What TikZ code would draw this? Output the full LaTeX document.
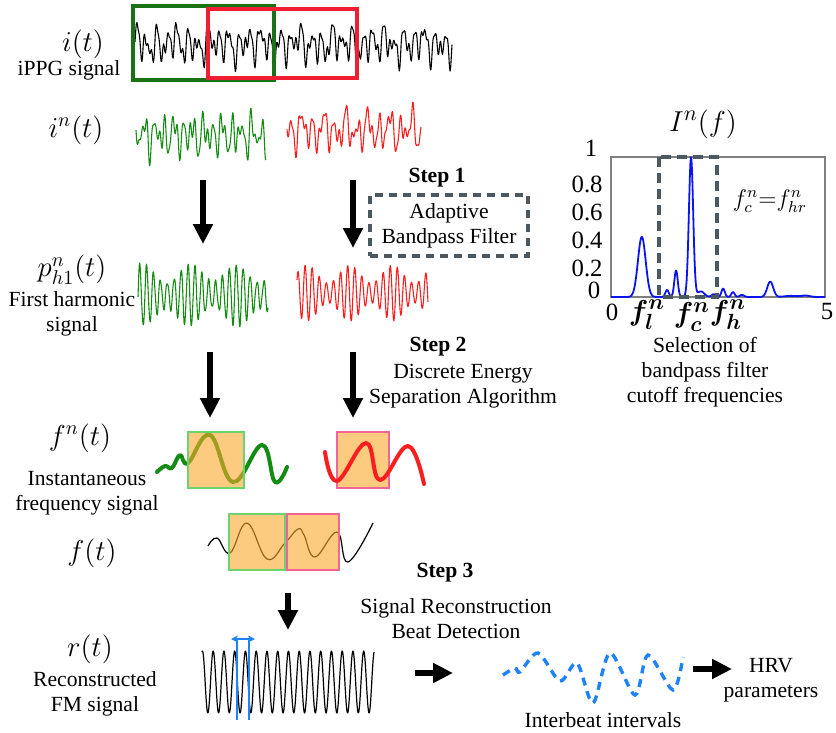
\documentclass[tikz,border=0pt]{standalone}
\usepackage{amsmath}
\usepackage{fontspec}
\setmainfont{Liberation Serif}
\usetikzlibrary{arrows.meta}

\definecolor{sgreen}{RGB}{20,140,20}
\definecolor{sred}{RGB}{250,30,30}
\definecolor{topgreen}{RGB}{25,115,20}
\definecolor{topred}{RGB}{240,30,50}
\definecolor{dashgray}{RGB}{75,88,95}
\definecolor{winfill}{RGB}{252,168,43}
\definecolor{edgegreen}{RGB}{110,210,110}
\definecolor{edgepink}{RGB}{240,100,150}
\definecolor{ibiblue}{RGB}{30,130,250}
\definecolor{specblue}{RGB}{10,20,240}

\tikzset{
  bigarrow/.style={line width=3.2pt,-{Triangle[length=10pt,width=9.5pt]}},
  txt/.style={font=\fontsize{10.8}{12.5}\selectfont,align=center,inner sep=0pt},
  steptxt/.style={txt,font=\fontsize{10.8}{12.5}\selectfont\bfseries},
  sig/.style={font=\fontsize{14.4}{16}\selectfont,inner sep=0pt},
  ticklbl/.style={font=\fontsize{12.4}{14}\selectfont,inner sep=0pt},
  wave/.style={line width=0.55pt,line join=round},
  fmcurve/.style={line width=2pt,line cap=round,line join=round},
  win/.style={fill=winfill,fill opacity=0.6,line width=1pt},
}

\begin{document}
\begin{tikzpicture}[x=0.5pt,y=-0.5pt,
    declare function={wv(\x,\y)=sin((360/\y)*mod(\x,\y));
                      wc(\x,\y)=cos((360/\y)*mod(\x,\y));
                      gs(\x,\y,\z)=exp(-0.5*((\x-\y)/\z)^2);}]
    \useasboundingbox (0,0) rectangle (836,733);

    % arrow ends
    \coordinate (inG) at (203,180);
    \coordinate (phG) at (203,244);
    \coordinate (inR) at (353,180);
    \coordinate (phR) at (353,248);
    \coordinate (phGout) at (210,352);
    \coordinate (fnG) at (210,418);
    \coordinate (phRout) at (353,352);
    \coordinate (fnR) at (353,418);
    \coordinate (ftOut) at (288,593);
    \coordinate (rtIn) at (288,630);
    \coordinate (rtOut) at (415,673);
    \coordinate (ibiIn) at (453,673);
    \coordinate (ibiOut) at (693,669);
    \coordinate (hrvIn) at (732,669);

    % iPPG signal and windows
    \draw[wave] plot[domain=135:452,samples=500]
        (\x,{44-11*wv(\x,10.3)-7*wv(\x+2.1,6.3)-5*wv(\x+1.3,3.9)-5*wv(\x+7,17.7)-3*wv(\x,41)});
    \draw[topgreen,line width=1.8pt] (133,6) rectangle (274,80);
    \draw[topred,line width=1.8pt] (208,9) rectangle (357,78);

    % windowed signals
    \draw[wave,sgreen] plot[domain=136:266,samples=260]
        (\x,{135-12*wv(\x+3,9.7)-9*wv(\x+1,6.1)-6*wv(\x,4.3)-5*wv(\x+5,15.9)});
    \draw[wave,sred] plot[domain=287:421,samples=260]
        (\x,{130-12*wv(\x+1,11.1)-8*wv(\x+4,6.7)-5*wv(\x+2,4.1)-6*wv(\x,21.3)});

    % first harmonic
    \draw[wave,sgreen] plot[domain=138:268,samples=320]
        (\x,{295-(22+9*wv(\x+10,47))*wv(\x,6.9)-2*wv(\x,3.3)});
    \draw[wave,sred] plot[domain=297:428,samples=320]
        (\x,{293-(19+9*wv(\x+5,43))*wv(\x+2,7.1)});

    % instantaneous frequency
    \draw[fmcurve,sgreen] plot[smooth,tension=0.7] coordinates {(157,472) (165,466) (172,468)
        (180,455) (188,463) (210,435) (233,482) (262,445) (275,482) (287,467)};
    \draw[win,draw=edgegreen] (188,432) rectangle (244,488);
    \draw[win,draw=edgepink] (337,432) rectangle (389,488);
    \draw[fmcurve,sred] plot[smooth,tension=0.7] coordinates {(325,452) (337,481) (366,443)
        (380,480) (408,446) (424,484)};

    % merged frequency signal
    \draw[wave,line width=0.6pt] plot[smooth,tension=0.7] coordinates {(208,546) (217,538)
        (230,553) (247,523) (267,559) (285,543) (298,529) (304,535) (315,557) (337,532)
        (348,562) (373,523)};
    \draw[win,draw=edgegreen] (229,514) rectangle (285,570);
    \draw[win,draw=edgepink] (287,514) rectangle (339,570);

    % reconstructed FM signal
    \draw[wave,line width=0.6pt] plot[domain=202:374,samples=400]
        (\x,{682-31*wc(\x+100-205.7,10.75)});
    \draw[ibiblue,line width=1pt] (237,640) -- (237,720);
    \draw[ibiblue,line width=1pt] (249,640) -- (249,720);
    \draw[ibiblue,line width=0.9pt,{Stealth[length=3.5pt,width=3.5pt]}-{Stealth[length=3.5pt,width=3.5pt]}]
        (231,639) -- (255,639);

    % interbeat intervals
    \draw[ibiblue,line width=1.7pt,dash pattern=on 4pt off 3pt] plot[smooth,tension=0.5]
        coordinates {(503,675) (515,668) (520,672) (538,653) (560,681) (577,663) (593,703)
        (610,653) (635,695) (648,655) (673,690) (683,657)};

    % arrows
    \draw[bigarrow] (inG) -- (phG);
    \draw[bigarrow] (inR) -- (phR);
    \draw[bigarrow] (phGout) -- (fnG);
    \draw[bigarrow] (phRout) -- (fnR);
    \draw[bigarrow] (ftOut) -- (rtIn);
    \draw[bigarrow] (rtOut) -- (ibiIn);
    \draw[bigarrow] (ibiOut) -- (hrvIn);

    % spectrum
    \draw[gray,line width=0.6pt] (611,157) rectangle (825,297);
    \draw[specblue,line width=0.9pt,line join=round] plot[domain=0:5,samples=400]
        ({611+42.8*\x},{297-140*(0.43*gs(\x,0.72,0.09)+0.05*gs(\x,1.31,0.04)
        +0.19*gs(\x,1.52,0.04)+1.0*gs(\x,1.87,0.05)+0.04*gs(\x,2.1,0.08)
        +0.02*gs(\x,2.4,0.05)+0.06*gs(\x,2.62,0.04)+0.035*gs(\x,2.85,0.04)
        +0.015*gs(\x,3.06,0.05)+0.11*gs(\x,3.72,0.07)+0.008*gs(\x,4.2,0.15)
        +0.01*gs(\x,4.55,0.1))});
    \draw[dashgray,line width=2pt,dash pattern=on 5pt off 3pt] (659,157) rectangle (717,297);

    \node[sig,font=\fontsize{15}{17}\selectfont] (specTitle) at (703,124) {$I^n(f)$};
    \node[ticklbl] (y1) at (591,148) {1};
    \node[ticklbl,anchor=east] (y08) at (603,184) {0.8};
    \node[ticklbl,anchor=east] (y06) at (603,212) {0.6};
    \node[ticklbl,anchor=east] (y04) at (603,240) {0.4};
    \node[ticklbl,anchor=east] (y02) at (603,268) {0.2};
    \node[ticklbl] (y0) at (594,290) {0};
    \node[ticklbl] (x0) at (612,312) {0};
    \node[ticklbl] (x5) at (827,312) {5};
    \node[sig,font=\fontsize{15}{17}\selectfont] (flLbl) at (647,315) {$\boldsymbol{f_l^n}$};
    \node[sig,font=\fontsize{15}{17}\selectfont] (fcLbl) at (692,317) {$\boldsymbol{f_c^n}$};
    \node[sig,font=\fontsize{15}{17}\selectfont] (fhLbl) at (728,315) {$\boldsymbol{f_h^n}$};
    \node[sig,font=\fontsize{11.7}{14}\selectfont] (fcEq) at (770,201) {$f_c^n{=}f_{hr}^n$};
    \node[txt] (selTxt) at (705,372) {Selection of\\bandpass filter\\cutoff frequencies};

    % left labels
    \node[sig] (itLbl) at (83,44) {$i(t)$};
    \node[txt] (ippgTxt) at (69,70) {iPPG signal};
    \node[sig] (inLbl) at (76,130) {$i^n(t)$};
    \node[sig] (phLbl) at (72,270) {$p^n_{h1}(t)$};
    \node[txt] (phTxt) at (72,314) {First harmonic\\signal};
    \node[sig] (fnLbl) at (80,438) {$f^n(t)$};
    \node[txt] (fnTxt) at (87,493) {Instantaneous\\frequency signal};
    \node[sig] (ftLbl) at (92,553) {$f(t)$};
    \node[sig] (rtLbl) at (90,649) {$r(t)$};
    \node[txt] (rtTxt) at (95,694) {Reconstructed\\FM signal};

    % steps
    \node[steptxt] (step1) at (437,178) {Step 1};
    \node[txt,draw=dashgray,line width=1.7pt,dash pattern=on 4pt off 3pt,
        minimum width=79pt,minimum height=30.5pt] (abf) at (449,225.5) {Adaptive\\Bandpass Filter};
    \node[steptxt] (step2) at (438,347) {Step 2};
    \node[txt] (desa) at (463,386) {Discrete Energy\\Separation Algorithm};
    \node[steptxt] (step3) at (445,573) {Step 3};
    \node[txt] (recTxt) at (456,619) {Signal Reconstruction\\Beat Detection};
    \node[txt] (ibiTxt) at (603,720) {Interbeat intervals};
    \node[txt] (hrvTxt) at (771,680) {HRV\\parameters};
\end{tikzpicture}
\end{document}
